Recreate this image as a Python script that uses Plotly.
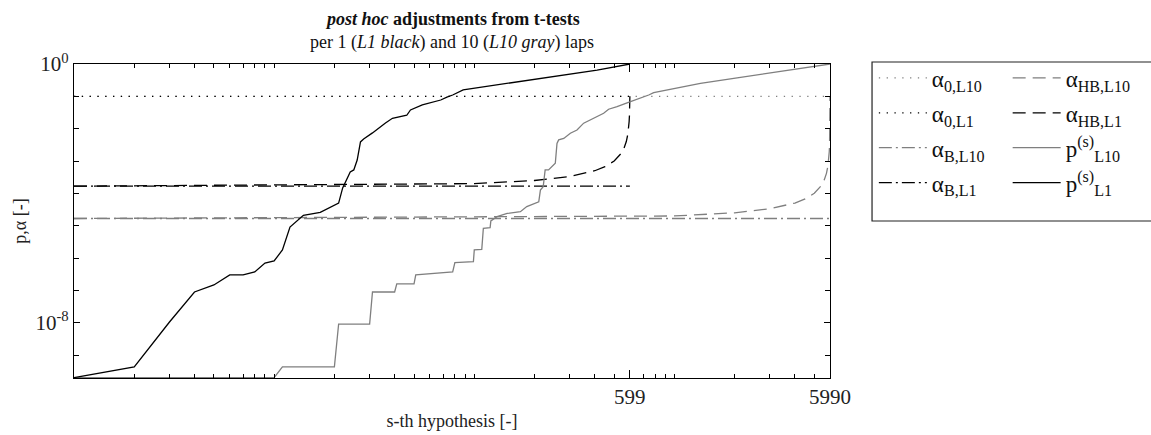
import plotly.graph_objects as go

# ---------------- data ----------------
# sorted p-values, 1 lap (L1), 599 hypotheses
s_L1 = [1, 2, 3, 4, 5, 6, 7, 8, 9, 10, 11, 12, 14, 17, 21, 22, 24, 25, 26, 27, 28,
        31, 36, 39, 46, 48, 55, 68, 73, 78, 88, 130, 190, 280, 411, 599]
p_L1 = [2e-10, 4.3e-10, 1.05e-8, 8.9e-8, 1.47e-7, 3.0e-7, 3.0e-7, 3.7e-7, 7.0e-7, 8.1e-7,
        1.78e-6, 9.1e-6, 2.1e-5, 2.6e-5, 5.0e-5, 1.47e-4, 4.6e-4, 5.3e-4, 1.07e-3, 3.9e-3,
        4.8e-3, 7.4e-3, 0.015, 0.021, 0.026, 0.038, 0.054, 0.077, 0.095, 0.11, 0.158,
        0.224, 0.32, 0.46, 0.65, 1.0]

# sorted p-values, 10 laps (L10), 5990 hypotheses
s_L10 = [1, 10, 11, 20, 21, 30, 31, 40, 41, 50, 51, 70, 78, 80, 99, 100, 109, 111, 120,
         121, 130, 146, 170, 183, 198, 210, 214, 221, 226, 235, 254, 259, 264, 280, 302,
         326, 352, 380, 411, 443, 469, 517, 580, 651, 744, 788, 1032, 1349, 1980, 2908,
         4266, 5990]
p_L10 = [2e-10, 2e-10, 4.3e-10, 4.3e-10, 9.1e-9, 9.1e-9, 8.9e-8, 8.9e-8, 1.58e-7, 1.58e-7,
         3.0e-7, 3.45e-7, 3.7e-7, 7.2e-7, 7.7e-7, 1.78e-6, 1.86e-6, 8.3e-6, 8.7e-6, 1.4e-5,
         1.9e-5, 2.4e-5, 2.7e-5, 3.9e-5, 4.9e-5, 5.5e-5, 1.26e-4, 1.6e-4, 5.3e-4, 5.3e-4,
         8.5e-4, 3.5e-3, 4.5e-3, 5.0e-3, 7.2e-3, 9.1e-3, 0.0148, 0.0186, 0.0234, 0.030,
         0.040, 0.048, 0.063, 0.081, 0.11, 0.13, 0.177, 0.25, 0.36, 0.52, 0.74, 1.0]

# significance levels
s_alpha_L1 = [1, 599]
s_alpha_L10 = [1, 5990]
alpha0_L1 = [0.1, 0.1]
alpha0_L10 = [0.1, 0.1]
alphaB_L1 = [1.669e-4, 1.669e-4]
alphaB_L10 = [1.669e-5, 1.669e-5]

s_HB_L1 = [1, 100, 200, 300, 400, 450, 500, 540, 560, 575, 585, 590, 594, 596, 597, 598, 599]
alphaHB_L1 = [1.669e-4, 2.0e-4, 2.5e-4, 3.33e-4, 5.0e-4, 6.67e-4, 1.0e-3, 1.67e-3, 2.5e-3,
              4.0e-3, 6.67e-3, 0.01, 0.0167, 0.025, 0.0333, 0.05, 0.1]
s_HB_L10 = [1, 1000, 2000, 3000, 4000, 4500, 5000, 5400, 5600, 5750, 5850, 5900, 5940,
            5960, 5975, 5982, 5986, 5988, 5989, 5990]
alphaHB_L10 = [1.669e-5, 2.0e-5, 2.506e-5, 3.343e-5, 5.02e-5, 6.71e-5, 1.009e-4, 1.69e-4,
               2.56e-4, 4.15e-4, 7.09e-4, 1.099e-3, 1.96e-3, 3.23e-3, 6.25e-3, 0.0111,
               0.02, 0.0333, 0.05, 0.1]

x_tickvals = [599, 5990]
x_ticktext = ["599", "5990"]
x_minor = [2, 3, 4, 5, 6, 7, 8, 9, 10, 20, 30, 40, 50, 60, 70, 80, 90, 100,
           200, 300, 400, 500, 700, 800, 900, 1000, 2000, 3000, 4000, 5000]
y_tickvals = [1, 1e-8]
y_ticktext = ["10<sup>0</sup>", "10<sup>-8</sup>"]
y_minor = [1e-1, 1e-2, 1e-3, 1e-4, 1e-5, 1e-6, 1e-7, 1e-9]

title_line1 = "<b><i>post hoc</i> adjustments from t-tests</b>"
title_line2 = "per 1 (<i>L1 black</i>) and 10 (<i>L10 gray</i>) laps"

# ---------------- styles ----------------
BLACK = "#000000"
GRAY = "#7f7f7f"
FONT = "Liberation Serif, Times New Roman, serif"
W = 1.3
DOT = "1.3px,6.5px"
DASHDOT = "13px,4px,2px,4px"
DASH = "13px,7px"

fig = go.Figure()


def add(x, y, name, color, dash, legend, group):
    fig.add_trace(go.Scatter(
        x=x, y=y, mode="lines", name=name, legend=legend, legendgroup=group,
        line=dict(color=color, width=W, dash=dash), hoverinfo="skip"))


add(s_alpha_L10, alpha0_L10, "α<sub>0,L10</sub>", GRAY, DOT, "legend", "a")
add(s_alpha_L1, alpha0_L1, "α<sub>0,L1</sub>", BLACK, DOT, "legend", "b")
add(s_alpha_L10, alphaB_L10, "α<sub>B,L10</sub>", GRAY, DASHDOT, "legend", "c")
add(s_alpha_L1, alphaB_L1, "α<sub>B,L1</sub>", BLACK, DASHDOT, "legend", "d")
add(s_HB_L10, alphaHB_L10, "α<sub>HB,L10</sub>", GRAY, DASH, "legend2", "e")
add(s_HB_L1, alphaHB_L1, "α<sub>HB,L1</sub>", BLACK, DASH, "legend2", "f")
add(s_L10, p_L10, "p<sup>(s)</sup><sub>L10</sub>", GRAY, "solid", "legend2", "g")
add(s_L1, p_L1, "p<sup>(s)</sup><sub>L1</sub>", BLACK, "solid", "legend2", "h")

axis_common = dict(
    type="log", showgrid=False, zeroline=False, showline=True, linecolor=BLACK,
    linewidth=1.2, mirror="ticks", ticks="inside", tickcolor=BLACK, tickwidth=1,
    tickfont=dict(family=FONT, size=21, color="#222"), automargin=False,
)

legend_common = dict(
    y=1.024, xanchor="left", yanchor="top", orientation="v",
    bgcolor="rgba(0,0,0,0)", borderwidth=0, itemwidth=48,
    tracegroupgap=2, font=dict(family=FONT, size=23, color="#111"),
)

fig.update_layout(
    width=1151, height=435,
    margin=dict(l=74, r=321, t=64, b=57),
    paper_bgcolor="white", plot_bgcolor="white",
    font=dict(family=FONT, color="#111"),
    xaxis=dict(
        **axis_common,
        range=[0, 3.7774],
        tickmode="array", tickvals=x_tickvals, ticktext=x_ticktext, ticklen=8,
        minor=dict(tickmode="array", tickvals=x_minor, ticks="inside", ticklen=4,
                   tickcolor=BLACK, tickwidth=1),
        title=dict(text="s-th hypothesis [-]", font=dict(family=FONT, size=18, color="#222"),
                   standoff=6),
    ),
    yaxis=dict(
        **axis_common,
        range=[-9.71, 0],
        tickmode="array", tickvals=y_tickvals, ticktext=y_ticktext, ticklen=6,
        minor=dict(tickmode="array", tickvals=y_minor, ticks="inside", ticklen=5,
                   tickcolor=BLACK, tickwidth=1),
        title=dict(text="p,α [-]", font=dict(family=FONT, size=18, color="#222"),
                   standoff=4),
    ),
    legend=dict(x=1.058, **legend_common),
    legend2=dict(x=1.235, **legend_common),
    shapes=[dict(type="rect", xref="paper", yref="paper",
                 x0=1.0556, x1=1.46, y0=0.5, y1=1.0064,
                 line=dict(color="#222", width=1.2), fillcolor="rgba(0,0,0,0)")],
    annotations=[
        dict(text=title_line1, x=0.5, y=1.143, xref="paper", yref="paper",
             xanchor="center", yanchor="middle", showarrow=False,
             font=dict(family=FONT, size=18, color="#111")),
        dict(text=title_line2, x=0.5, y=1.07, xref="paper", yref="paper",
             xanchor="center", yanchor="middle", showarrow=False,
             font=dict(family=FONT, size=18, color="#111")),
    ],
    showlegend=True,
)

fig.write_html("out.html")
